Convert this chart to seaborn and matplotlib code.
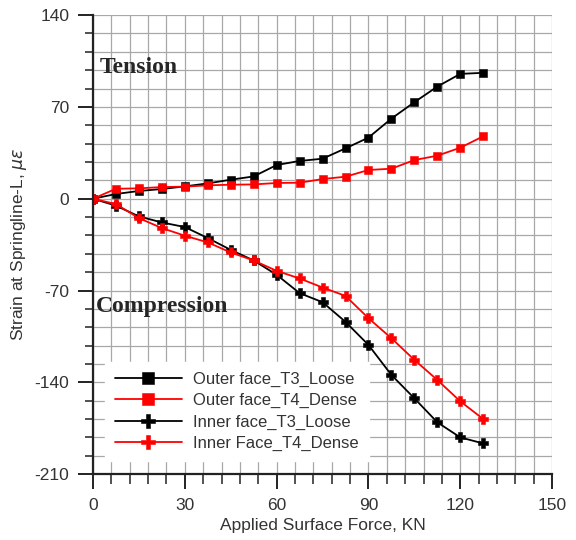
import numpy as np
import pandas as pd
import matplotlib
matplotlib.use("Agg")
import matplotlib.pyplot as plt
import seaborn as sns
from matplotlib.ticker import MultipleLocator

force = [0, 7.5, 15, 22.5, 30, 37.5, 45, 52.5, 60, 67.5, 75, 82.5, 90, 97.5, 105, 112.5, 120, 127.5]
outer_t3_loose = [0, 3.6, 5.9, 7.4, 9.4, 11.7, 14.5, 17.0, 25.7, 28.8, 30.5, 38.4, 46.6, 61.1, 73.6, 85.5, 95.2, 96.0]
outer_t4_dense = [0, 7.6, 7.9, 8.9, 9.2, 10.2, 10.7, 10.9, 12.0, 12.2, 15.0, 16.8, 21.9, 22.9, 29.5, 32.8, 38.9, 47.6]
inner_t3_loose = [0, -5.3, -13.5, -18.1, -21.6, -30.0, -39.0, -47.1, -58.0, -72.0, -78.9, -93.9, -111.5, -134.4, -152.2, -170.5, -182.0, -186.6]
inner_t4_dense = [0, -4.1, -14.8, -22.4, -28.2, -33.3, -41.0, -47.1, -55.0, -60.8, -67.7, -74.1, -91.1, -106.4, -122.9, -138.2, -154.5, -168.0]

series_names = ["Outer face_T3_Loose", "Outer face_T4_Dense", "Inner face_T3_Loose", "Inner Face_T4_Dense"]
series_vals = [outer_t3_loose, outer_t4_dense, inner_t3_loose, inner_t4_dense]
colors = ["black", "red", "black", "red"]
markers = ["s", "s", "P", "P"]

x_ticks = [0, 30, 60, 90, 120, 150]
y_ticks = [-210, -140, -70, 0, 70, 140]

sns.set_style("white")
plt.rcParams['font.family'] = ['Liberation Sans', 'DejaVu Sans']
plt.rcParams['axes.unicode_minus'] = False

fig = plt.figure(figsize=(5.76, 5.4), dpi=100)
ax = fig.add_axes([0.1615, 0.122, 0.797, 0.850])

for name, vals, c, m in zip(series_names, series_vals, colors, markers):
    df = pd.DataFrame({"x": force, "y": vals})
    sns.lineplot(data=df, x="x", y="y", ax=ax, color=c, marker=m, markersize=5.5 if m == "s" else 6.5,
                 markeredgecolor=c, markeredgewidth=0.4, linewidth=1.3, label=name)

ax.set_xlim(0, 150)
ax.set_ylim(-210, 140)
ax.set_xticks(x_ticks)
ax.set_yticks(y_ticks)
ax.xaxis.set_minor_locator(MultipleLocator(6))
ax.yaxis.set_minor_locator(MultipleLocator(14))
ax.grid(True, which="both", color="#a8a8a8", linewidth=0.9)
ax.set_axisbelow(True)
for s in ["top", "right"]:
    ax.spines[s].set_visible(False)
for s in ["left", "bottom"]:
    ax.spines[s].set_color("#222222")
    ax.spines[s].set_linewidth(1.6)
ax.tick_params(axis="x", which="major", direction="out", length=11, width=1.4, labelsize=12.5, pad=6,
               colors="#222222", labelcolor="#333333")
ax.tick_params(axis="x", which="minor", direction="out", length=7, width=1.1, colors="#222222")
ax.tick_params(axis="y", which="major", direction="out", length=11, width=1.4, labelsize=12.5, pad=6,
               colors="#222222", labelcolor="#333333")
ax.tick_params(axis="y", which="minor", direction="out", length=6, width=1.1, colors="#222222")
ax.tick_params(bottom=True, left=True, which="both")

ax.set_xlabel("Applied Surface Force, KN", fontsize=12.5, labelpad=4, color="#333333")
ax.set_ylabel(r"Strain at Springline-L, $\mu\varepsilon$", fontsize=12.5, labelpad=4, color="#333333")

ax.text(2.3, 100, "Tension", fontsize=17, fontweight="bold", family="Liberation Serif", va="center", ha="left")
ax.text(0.8, -82, "Compression", fontsize=17, fontweight="bold", family="Liberation Serif", va="center", ha="left")

leg = ax.legend(loc="lower left", bbox_to_anchor=(0.008, 0.01), fontsize=12, frameon=True,
                fancybox=False, handlelength=4.0, handletextpad=0.7, borderpad=0.6, labelspacing=0.38,
                markerscale=1.5)
leg.get_frame().set_edgecolor("white")
leg.get_frame().set_facecolor("white")
leg.get_frame().set_alpha(1)
for t in leg.get_texts():
    t.set_color("#333333")

fig.savefig("out.png", dpi=100)
